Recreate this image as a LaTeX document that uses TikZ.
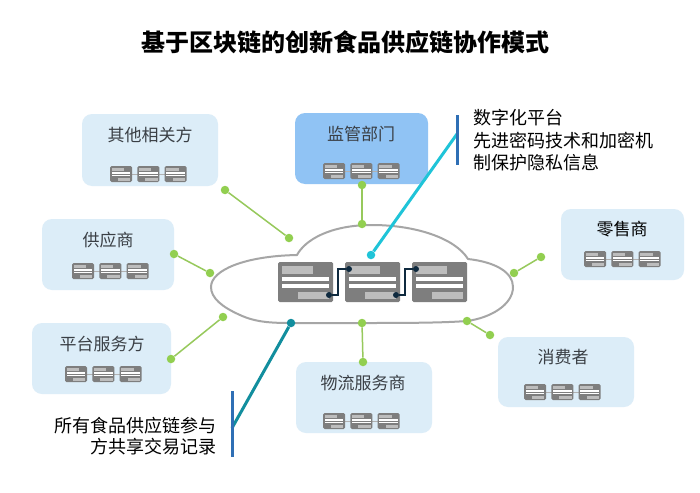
\documentclass[tikz,border=0pt]{standalone}
\usepackage{fontspec}
\setmainfont{Noto Sans CJK SC}
\begin{document}
\begin{tikzpicture}[x=1pt,y=-1pt,
  party/.style={fill=#1,rounded corners=10pt,inner sep=0pt,draw=none},
  party/.default=partyblue,
  dot/.style={circle,fill=dotgreen,inner sep=0pt,minimum size=8.5pt},
  glink/.style={draw=linegreen,line width=1.5pt},
  bar/.style={draw=barblue,line width=3pt},
  lab/.style={font=\fontsize{17}{20}\selectfont,text=labelgray,inner sep=0pt},
  info/.style={font=\fontsize{18}{22}\selectfont,text=black,inner sep=0pt},
  chain/.style={draw=chaindark,line width=2.2pt},
  cdot/.style={circle,fill=chaindark,inner sep=0pt,minimum size=6pt}]
\definecolor{partyblue}{HTML}{DCEDF8}
\definecolor{regblue}{HTML}{90C3F4}
\definecolor{dotgreen}{HTML}{92CF50}
\definecolor{linegreen}{HTML}{97C95C}
\definecolor{barblue}{HTML}{2F6FB5}
\definecolor{labelgray}{HTML}{3A3F45}
\definecolor{cardgray}{HTML}{7E7E7E}
\definecolor{tabgray}{HTML}{BDBDBD}
\definecolor{chaindark}{HTML}{0F2A3F}
\definecolor{cloudgray}{HTML}{A6A6A6}
\definecolor{calloutcyan}{HTML}{1FC4D8}
\definecolor{calloutteal}{HTML}{128E9E}
\newcommand{\blockcard}[3]{%
  \begin{scope}[shift={(#1,#2)},scale=#3]
  \fill[cardgray,rounded corners=1.5pt] (0,0) rectangle (55,40);
  \fill[tabgray] (4,4) rectangle (35,12);
  \fill[white] (4,15) rectangle (51,19);
  \fill[white] (4,22) rectangle (51,26);
  \fill[tabgray] (20,30) rectangle (51,37);
  \end{scope}}
\newcommand{\blockset}[2]{%
  \draw[cardgray!60,line width=.6pt] (#1+20,#2+8) -- (#1+29,#2+8) (#1+47,#2+8) -- (#1+56,#2+8);
  \blockcard{#1}{#2}{0.4}\blockcard{#1+27.3}{#2}{0.4}\blockcard{#1+54.6}{#2}{0.4}}
\useasboundingbox (0,0) rectangle (700,492);
\fill[white] (0,0) rectangle (700,492);
% title
\node[font=\fontsize{24}{28}\selectfont\bfseries,inner sep=0pt] (title) at (345.5,42) {基于区块链的创新食品供应链协作模式};
% party boxes
\node[party,minimum width=136pt,minimum height=72pt] (other) at (150,150) {};
\node[party=regblue,minimum width=133pt,minimum height=71pt] (reg) at (361.5,148.5) {};
\node[party,minimum width=132pt,minimum height=71pt] (supplier) at (108,254.5) {};
\node[party,minimum width=123pt,minimum height=71pt] (retail) at (622.5,244.5) {};
\node[party,minimum width=139pt,minimum height=71pt] (platform) at (101.5,358.5) {};
\node[party,minimum width=136pt,minimum height=71pt] (logistics) at (364,397.5) {};
\node[party,minimum width=136pt,minimum height=70pt] (consumer) at (566,372) {};
\node[lab] (tother) at (150,135) {其他相关方};
\node[lab] (treg) at (361,134) {监管部门};
\node[lab] (tsup) at (108,240) {供应商};
\node[lab,text=black] (tret) at (622,229) {零售商};
\node[lab] (tpla) at (102,344) {平台服务方};
\node[lab] (tlog) at (363,383) {物流服务商};
\node[lab] (tcon) at (563,357) {消费者};
\blockset{110}{166}
\blockset{323}{163}
\blockset{72}{263}
\blockset{584}{251}
\blockset{65}{366}
\blockset{323}{413}
\blockset{524}{384}
% cloud
\draw[draw=cloudgray,line width=2pt,fill=white]
  (297,255) .. controls (305,240) and (330,225) .. (372,225)
  .. controls (415,225) and (455,238) .. (468,259)
  .. controls (495,262) and (513,272) .. (513,287)
  .. controls (513,305) and (490,318) .. (467,321)
  .. controls (440,323) and (400,323) .. (362,323)
  -- (291,323)
  .. controls (270,323) and (255,322) .. (240,315)
  .. controls (222,307) and (211,298) .. (211,287)
  .. controls (211,270) and (245,256) .. (297,255) -- cycle;
% central cards
\blockcard{278}{262}{1}
\blockcard{345}{262}{1}
\blockcard{412}{262}{1}
\node[cdot] (a1) at (329,295) {};
\node[cdot] (a2) at (349,269) {};
\node[cdot] (b1) at (396,295) {};
\node[cdot] (b2) at (416,269) {};
\draw[chain] (a1) -- (338,295) -- (338,269) -- (a2);
\draw[chain] (b1) -- (405,295) -- (405,269) -- (b2);
% green connectors
\node[dot] (d1a) at (225,190) {};
\node[dot] (d1b) at (289,238) {};
\node[dot] (d2a) at (362,185) {};
\node[dot] (d2b) at (362,224) {};
\node[dot] (d3a) at (174,254) {};
\node[dot] (d3b) at (210,273) {};
\node[dot] (d4a) at (541,257) {};
\node[dot] (d4b) at (514,273) {};
\node[dot] (d5a) at (171,359) {};
\node[dot] (d5b) at (223,317) {};
\node[dot] (d6a) at (362,323) {};
\node[dot] (d6b) at (363,362) {};
\node[dot] (d7a) at (467,321) {};
\node[dot] (d7b) at (490,335) {};
\draw[glink] (d1a) -- (d1b);
\draw[glink] (d2a) -- (d2b);
\draw[glink] (d3a) -- (d3b);
\draw[glink] (d4a) -- (d4b);
\draw[glink] (d5a) -- (d5b);
\draw[glink] (d6a) -- (d6b);
\draw[glink] (d7a) -- (d7b);
% callouts
\coordinate (bar1t) at (457,115);
\coordinate (bar1b) at (457,165);
\coordinate (bar1m) at (457,134);
\coordinate (bar2t) at (232,391);
\coordinate (bar2b) at (232,457);
\coordinate (bar2m) at (232,428);
\node[circle,fill=calloutcyan,inner sep=0pt,minimum size=8.5pt] (cy) at (371,255) {};
\node[circle,fill=calloutteal,inner sep=0pt,minimum size=8.5pt] (te) at (291,323) {};
\draw[calloutcyan,line width=3pt] (cy) -- (bar1m);
\draw[calloutteal,line width=3pt] (te) -- (bar2m);
\draw[bar] (bar1t) -- (bar1b);
\draw[bar] (bar2t) -- (bar2b);
\node[info,anchor=west] (n1) at (473,118) {数字化平台};
\node[info,anchor=west] (n2) at (473,141) {先进密码技术和加密机};
\node[info,anchor=west] (n3) at (473,163) {制保护隐私信息};
\node[info,anchor=east] (n4) at (217,426) {所有食品供应链参与};
\node[info,anchor=east] (n5) at (217,447) {方共享交易记录};
\end{tikzpicture}
\end{document}
